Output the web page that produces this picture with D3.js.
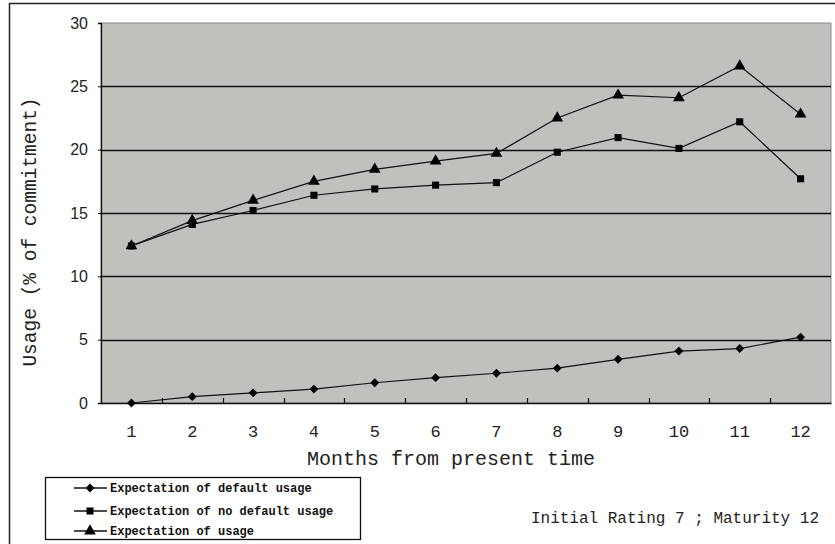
<!DOCTYPE html>
<html>
<head>
<meta charset="utf-8">
<script src="https://cdn.jsdelivr.net/npm/d3@7"></script>
<style>
  body { margin: 0; background: #fff; }
  svg { display: block; }
</style>
</head>
<body>
<svg id="chart" width="835" height="544"></svg>
<script>
// data
var months = [1, 2, 3, 4, 5, 6, 7, 8, 9, 10, 11, 12];
var defaultUsage   = [0, 0.5, 0.8, 1.1, 1.6, 2.0, 2.35, 2.75, 3.45, 4.1, 4.3, 5.2];
var noDefaultUsage = [12.4, 14.1, 15.2, 16.4, 16.9, 17.2, 17.4, 19.8, 20.95, 20.1, 22.2, 17.7];
var usage          = [12.4, 14.4, 16.0, 17.5, 18.45, 19.1, 19.7, 22.5, 24.3, 24.1, 26.6, 22.8];
var yTicks = [0, 5, 10, 15, 20, 25, 30];
var seriesNames = ["Expectation of default usage", "Expectation of no default usage", "Expectation of usage"];
var seriesSymbols = [d3.symbolDiamond2, d3.symbolSquare, d3.symbolTriangle];

var series = [defaultUsage, noDefaultUsage, usage];

var svg = d3.select("#chart");
var mono = "'Liberation Mono', 'DejaVu Sans Mono', monospace";

// outer frame
svg.append("path")
    .attr("d", "M9.5,544 L9.5,3.5 L835,3.5")
    .attr("fill", "none")
    .attr("stroke", "#222")
    .attr("stroke-width", 1.5);

var plot = {left: 101, right: 831, top: 23, bottom: 403};

var x = d3.scaleBand()
    .domain(months)
    .range([plot.left, plot.right]);
var y = d3.scaleLinear()
    .domain([0, 30])
    .range([plot.bottom, plot.top]);

// plot background
svg.append("rect")
    .attr("x", plot.left)
    .attr("y", plot.top)
    .attr("width", plot.right - plot.left)
    .attr("height", plot.bottom - plot.top)
    .attr("fill", "#c2c0bd")
    .attr("stroke", "#8a8a8a")
    .attr("stroke-width", 1);

// gridlines
svg.append("g")
    .selectAll("line")
    .data(yTicks.filter(function(d){ return d > 0 && d < 30; }))
    .enter()
    .append("line")
    .attr("x1", plot.left)
    .attr("x2", plot.right)
    .attr("y1", function(d){ return Math.round(y(d)) + 0.5; })
    .attr("y2", function(d){ return Math.round(y(d)) + 0.5; })
    .attr("stroke", "#111")
    .attr("stroke-width", 1.3);

// y axis
var yAxis = d3.axisLeft(y)
    .tickValues(yTicks)
    .tickSize(3)
    .tickPadding(10);
var gy = svg.append("g")
    .attr("transform", "translate(" + plot.left + ",0)")
    .call(yAxis);
gy.select(".domain").attr("stroke", "#111").attr("stroke-width", 1.3);
gy.selectAll("text")
    .attr("font-family", "'Liberation Sans', Arial, sans-serif")
    .attr("font-size", 16)
    .attr("fill", "#222");

// x axis: labels centred on bands, ticks at band edges pointing up
var xAxis = d3.axisBottom(x)
    .tickSize(0)
    .tickPadding(22);
var gx = svg.append("g")
    .attr("transform", "translate(0," + plot.bottom + ")")
    .call(xAxis);
gx.select(".domain").attr("stroke", "#111").attr("stroke-width", 1.5);
gx.selectAll("text")
    .attr("font-family", mono)
    .attr("font-size", 17)
    .attr("fill", "#222");
svg.append("g")
    .selectAll("line")
    .data(months.slice(1))
    .enter()
    .append("line")
    .attr("x1", function(d){ return Math.round(x(d)) + 0.5; })
    .attr("x2", function(d){ return Math.round(x(d)) + 0.5; })
    .attr("y1", plot.bottom)
    .attr("y2", plot.bottom - 5)
    .attr("stroke", "#111")
    .attr("stroke-width", 1.2);

// lines
var line = d3.line()
    .x(function(d, i){ return x(months[i]) + x.bandwidth() / 2; })
    .y(function(d){ return y(d); });

var sizes = [50, 50, 60];
for (var s = 0; s < series.length; s++) {
    svg.append("path")
        .datum(series[s])
        .attr("d", line)
        .attr("fill", "none")
        .attr("stroke", "#111")
        .attr("stroke-width", 1.2);
    svg.append("g")
        .selectAll("path")
        .data(series[s])
        .enter()
        .append("path")
        .attr("transform", function(d, i){
            return "translate(" + (x(months[i]) + x.bandwidth() / 2) + "," + y(d) + ")";
        })
        .attr("d", d3.symbol().type(seriesSymbols[s]).size(sizes[s]))
        .attr("fill", "#000");
}

// axis titles
svg.append("text")
    .attr("x", 451)
    .attr("y", 465)
    .attr("text-anchor", "middle")
    .attr("font-family", mono)
    .attr("font-size", 20)
    .attr("fill", "#222")
    .text("Months from present time");

svg.append("text")
    .attr("transform", "translate(36,232) rotate(-90)")
    .attr("text-anchor", "middle")
    .attr("font-family", mono)
    .attr("font-size", 19.5)
    .attr("fill", "#222")
    .text("Usage (% of commitment)");

// legend
var legend = svg.append("g");
legend.append("rect")
    .attr("x", 45.5)
    .attr("y", 477.5)
    .attr("width", 315)
    .attr("height", 62)
    .attr("fill", "#fff")
    .attr("stroke", "#111")
    .attr("stroke-width", 1.3);
var legendY = [488, 511, 531];
for (var j = 0; j < seriesNames.length; j++) {
    legend.append("line")
        .attr("x1", 74)
        .attr("x2", 107)
        .attr("y1", legendY[j])
        .attr("y2", legendY[j])
        .attr("stroke", "#111")
        .attr("stroke-width", 1.3);
    legend.append("path")
        .attr("transform", "translate(90," + legendY[j] + ")")
        .attr("d", d3.symbol().type(seriesSymbols[j]).size(sizes[j]))
        .attr("fill", "#000");
    legend.append("text")
        .attr("x", 110)
        .attr("y", legendY[j] + 4)
        .attr("font-family", mono)
        .attr("font-size", 12)
        .attr("font-weight", "bold")
        .attr("fill", "#111")
        .text(seriesNames[j]);
}

// note
svg.append("text")
    .attr("x", 819)
    .attr("y", 523)
    .attr("text-anchor", "end")
    .attr("font-family", mono)
    .attr("font-size", 16)
    .attr("fill", "#222")
    .text("Initial Rating 7 ; Maturity 12");
</script>
</body>
</html>
